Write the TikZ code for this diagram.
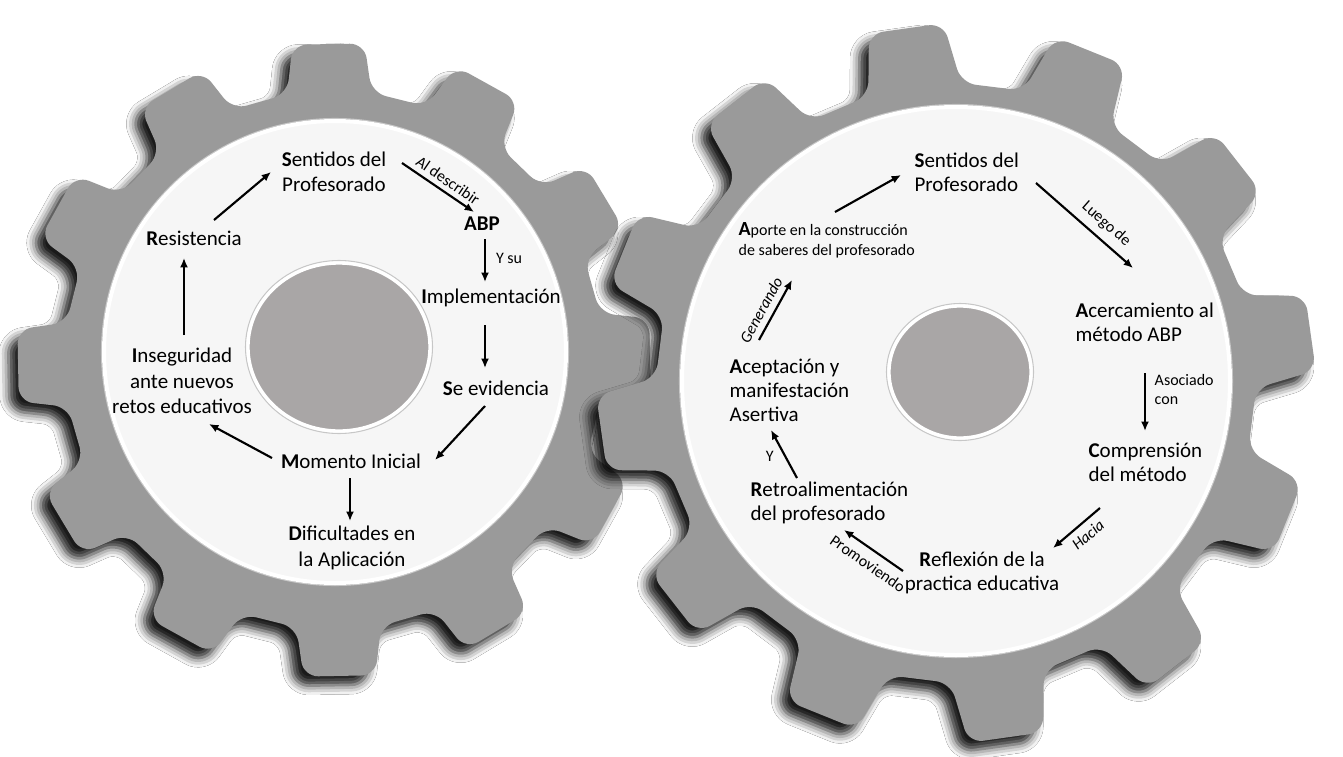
\documentclass[tikz,border=0pt]{standalone}
\usepackage{fontspec}
\setmainfont{Carlito}
\usetikzlibrary{arrows.meta,shadows.blur}
\definecolor{gearfill}{RGB}{154,154,154}
\definecolor{diskfill}{RGB}{246,246,246}
\definecolor{hubfill}{RGB}{169,166,166}
\begin{document}
\begin{tikzpicture}[x=0.75pt,y=-0.75pt,
  gearbody/.style={fill=gearfill, rounded corners=11pt,
    blur shadow={shadow xshift=-7pt, shadow yshift=-7pt, shadow blur radius=7pt, shadow opacity=90}},
  diskedge/.style={draw=black!22, line width=0.8pt},
  disk/.style={fill=diskfill, draw=white, line width=3pt},
  hub/.style={fill=hubfill, draw=white, line width=2.5pt},
  mainL/.style={font=\fontsize{15.75}{19}\selectfont, inner sep=1pt, align=center},
  mainR/.style={font=\fontsize{15.75}{18}\selectfont, inner sep=1pt, align=left, anchor=west},
  mainRc/.style={font=\fontsize{15.75}{18}\selectfont, inner sep=1pt, align=center},
  smallR/.style={font=\fontsize{12}{15}\selectfont, inner sep=1pt, align=left, anchor=west},
  lbl/.style={font=\fontsize{12}{14}\selectfont, inner sep=0.5pt},
  arr/.style={line width=1.6pt, -{Latex[length=7pt,width=6pt]}}
]
\useasboundingbox (0,0) rectangle (1343,757);
\fill[white] (0,0) rectangle (1343,757);

% ---------------- left gear ----------------
\begin{scope}[shift={(334,360)}]
 \path[gearbody] ({-91-9}:270)
   \foreach \k in {0,...,10}{
     -- ({-91+30*\k-6.5}:318) -- ({-91+30*\k+6.5}:318)
     -- ({-91+30*\k+9}:270) -- ({-91+30*\k+21}:270)}
   -- ({-91+330-6.5}:318) -- ({-91+330+6.5}:318) -- ({-91+330+9}:270) -- cycle;
\end{scope}
\draw[diskedge] (335,352) circle[radius=233.5];
\path[disk] (335,352) circle[radius=231];
\draw[diskedge] (339,347) ellipse[x radius=93.5, y radius=86.5];
\path[hub] (339,347) ellipse[x radius=91, y radius=84];

\node[mainL] (lS)   at (334,172) {\textbf{S}entidos del\\Profesorado};
\node[mainL] (lABP) at (482,224) {\textbf{ABP}};
\node[mainL] (lImp) at (491,298) {\textbf{I}mplementación};
\node[mainL] (lSe)  at (496,388) {\textbf{S}e evidencia};
\node[mainL] (lMom) at (351,461) {\textbf{M}omento Inicial};
\node[mainL] (lDif) at (352,548) {\textbf{D}ificultades en\\la Aplicación};
\node[mainL] (lIns) at (182,381) {\textbf{I}nseguridad\\ante nuevos\\retos educativos};
\node[mainL] (lRes) at (194,238) {\textbf{R}esistencia};

\draw[arr] ([shift={(68,-9)}]lS.center) -- node[lbl,sloped,above=3pt,pos=0.55]{Al describir} ([shift={(-8,-12)}]lABP.center);
\draw[arr] ([shift={(3,15)}]lABP.center) -- node[lbl,pos=0.45,anchor=west,xshift=7pt]{Y su} ([shift={(-6,-16)}]lImp.center);
\draw[arr] ([shift={(-6,27)}]lImp.center) -- ([shift={(-11,-20)}]lSe.center);
\draw[arr] ([shift={(-11,18)}]lSe.center) -- ([shift={(84,-1)}]lMom.center);
\draw[arr] ([shift={(-79,-3)}]lMom.center) -- ([shift={(27,43)}]lIns.center);
\draw[arr] ([shift={(-1,17)}]lMom.center) -- ([shift={(-2,-27)}]lDif.center);
\draw[arr] ([shift={(2,-46)}]lIns.center) -- ([shift={(-10,20)}]lRes.center);
\draw[arr] ([shift={(20,-18)}]lRes.center) -- ([shift={(-63,0)}]lS.center);

% ---------------- right gear ----------------
\begin{scope}[shift={(956,383)}]
 \path[gearbody] ({-8-9}:300)
   \foreach \k in {0,...,10}{
     -- ({-8+30*\k-6}:360) -- ({-8+30*\k+6}:360)
     -- ({-8+30*\k+9}:300) -- ({-8+30*\k+21}:300)}
   -- ({-8+330-6}:360) -- ({-8+330+6}:360) -- ({-8+330+9}:300) -- cycle;
\end{scope}
\draw[diskedge] (956,381) circle[radius=276.5];
\path[disk] (956,381) circle[radius=274];
\draw[diskedge] (960,372) ellipse[x radius=73.5, y radius=68.5];
\path[hub] (960,372) ellipse[x radius=71, y radius=66];

\node[mainR] (rS)    at (913,172)  {\textbf{S}entidos del\\Profesorado};
\node[mainR] (rAce)  at (1074,322) {\textbf{A}cercamiento al\\método ABP};
\node[mainR] (rCom)  at (1087,462) {\textbf{C}omprensión\\del método};
\node[mainRc] (rRef) at (982,573)  {\textbf{R}eflexión de la\\practica educativa};
\node[mainR] (rRet)  at (749,503)  {\textbf{R}etroalimentación\\del profesorado};
\node[mainR] (rAcep) at (728,390)  {\textbf{A}ceptación y\\manifestación\\Asertiva};
\node[smallR] (rApo) at (737,240)  {{\fontsize{15}{15}\selectfont\textbf{A}}porte en la construcción\\de saberes del profesorado};

\draw[arr] ([shift={(123,11)}]rS.west) -- node[lbl,sloped,above=5pt,pos=0.62]{Luego de} ([shift={(59,-54)}]rAce.west);
\draw[arr] ([shift={(71,51)}]rAce.west) -- node[lbl,align=left,anchor=west,pos=0.29,xshift=6pt]{Asociado\\con} ([shift={(58,-31)}]rCom.west);
\draw[arr] ([shift={(13,46)}]rCom.west) -- node[lbl,sloped,below=4pt,pos=0.43,font=\fontsize{12}{14}\selectfont\itshape]{Hacia} ([shift={(71,-25)}]rRef.center);
\draw[arr] ([shift={(-79,-2)}]rRef.center) -- node[lbl,sloped,below=5pt,pos=0.46]{Promoviendo} ([shift={(95,27)}]rRet.west);
\draw[arr] ([shift={(48,-25)}]rRet.west) -- node[lbl,pos=0.55,anchor=east,xshift=-5.5pt,yshift=-3.3pt]{Y} ([shift={(43,40)}]rAcep.west);
\draw[arr] ([shift={(31,-50)}]rAcep.west) -- node[lbl,sloped,above=4pt,pos=0.4,font=\fontsize{12}{14}\selectfont\itshape]{Generando} ([shift={(55,40)}]rApo.west);
\draw[arr] ([shift={(98,-28)}]rApo.west) -- ([shift={(-12,3)}]rS.west);
\end{tikzpicture}
\end{document}
